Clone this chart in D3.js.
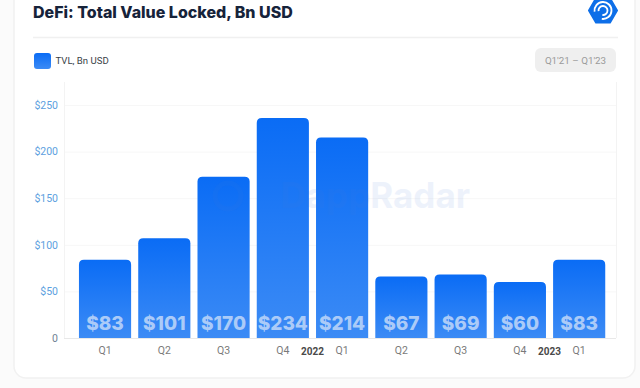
<!DOCTYPE html>
<html>
<head>
<meta charset="utf-8">
<script src="https://cdn.jsdelivr.net/npm/d3@7"></script>
<style>
  html, body { margin: 0; padding: 0; background: #fbfbfb; overflow: hidden; }
</style>
</head>
<body>
<div id="chart"></div>
<script>
// chart data
var quarters = ["Q1", "Q2", "Q3", "Q4", "Q1 ", "Q2 ", "Q3 ", "Q4 ", "Q1  "];
var quarterLabels = ["Q1", "Q2", "Q3", "Q4", "Q1", "Q2", "Q3", "Q4", "Q1"];
var barHeights = [84, 107, 173, 236, 215, 66, 68, 60, 84];
var valueLabels = ["$83", "$101", "$170", "$234", "$214", "$67", "$69", "$60", "$83"];
var yTicks = [0, 50, 100, 150, 200, 250];
var yearMarks = [{ year: "2022", after: 3 }, { year: "2023", after: 7 }];

var svgWidth = 640;
var svgHeight = 388;

var svg = d3.select("#chart")
  .append("svg")
  .attr("width", svgWidth)
  .attr("height", svgHeight)
  .attr("font-family", "Roboto, sans-serif")
  .style("display", "block");

var defs = svg.append("defs");
var grad = defs.append("linearGradient")
  .attr("id", "barFill")
  .attr("x1", 0).attr("y1", 0).attr("x2", 0).attr("y2", 1);
grad.append("stop").attr("offset", "0%").attr("stop-color", "#0a6cf5");
grad.append("stop").attr("offset", "100%").attr("stop-color", "#3c8bf5");

// card
svg.append("rect")
  .attr("x", 14).attr("y", -20)
  .attr("width", 621).attr("height", 398)
  .attr("rx", 12)
  .attr("fill", "#fff")
  .attr("stroke", "#f1f1f1")
  .attr("stroke-width", 1.5);

// header
svg.append("text")
  .attr("x", 33).attr("y", 18)
  .attr("font-family", "Inter, sans-serif")
  .attr("font-size", 16)
  .attr("font-weight", 800)
  .attr("fill", "#16233a")
  .text("DeFi: Total Value Locked, Bn USD");

svg.append("line")
  .attr("x1", 33).attr("x2", 618)
  .attr("y1", 37.5).attr("y2", 37.5)
  .attr("stroke", "#f0f0f0")
  .attr("stroke-width", 1.5);

// logo
var logo = svg.append("g").attr("transform", "translate(603,10.5)");
var hex = d3.range(6).map(function(i) {
  var a = i * Math.PI / 3;
  return [14 * Math.cos(a), 14 * Math.sin(a)];
});
logo.append("path")
  .attr("d", d3.line().curve(d3.curveLinearClosed)(hex))
  .attr("fill", "#0e6fe8")
  .attr("stroke", "#0e6fe8")
  .attr("stroke-width", 2)
  .attr("stroke-linejoin", "round");
[8.5, 4.5].forEach(function(r) {
  logo.append("path")
    .attr("d", d3.arc()({ innerRadius: r - 0.9, outerRadius: r + 0.9, startAngle: -2.5, endAngle: 2.5 }))
    .attr("transform", "rotate(45)")
    .attr("fill", "#fff");
});

// legend
svg.append("rect")
  .attr("x", 34).attr("y", 53)
  .attr("width", 17).attr("height", 16)
  .attr("rx", 3)
  .attr("fill", "url(#barFill)");
svg.append("text")
  .attr("x", 55.5).attr("y", 64)
  .attr("font-size", 9.6)
  .attr("fill", "#3a3f47")
  .text("TVL, Bn USD");

// range pill
svg.append("rect")
  .attr("x", 535).attr("y", 48)
  .attr("width", 81).attr("height", 24)
  .attr("rx", 6)
  .attr("fill", "#efefef");
svg.append("text")
  .attr("x", 575.5).attr("y", 64)
  .attr("text-anchor", "middle")
  .attr("font-size", 9.8)
  .attr("fill", "#9a9a9a")
  .text("Q1'21 – Q1'23");

// scales
var xBandScale = d3.scaleBand()
  .domain(quarters)
  .range([75.4, 608.8])
  .paddingInner(0.12)
  .paddingOuter(0.06);

var yLinearScale = d3.scaleLinear()
  .domain([0, 250])
  .range([338, 105]);

var plotLeft = 64;
var plotRight = 616;

// gridlines and frame
svg.append("g").selectAll("line")
  .data(yTicks)
  .join("line")
  .attr("x1", plotLeft).attr("x2", plotRight)
  .attr("y1", d => yLinearScale(d) + 0.5).attr("y2", d => yLinearScale(d) + 0.5)
  .attr("stroke", d => d === 0 ? "#e8e8e8" : "#f7f7f7");
[plotLeft, plotRight].forEach(function(x) {
  svg.append("line")
    .attr("x1", x + 0.5).attr("x2", x + 0.5)
    .attr("y1", 82).attr("y2", 338)
    .attr("stroke", "#f3f3f3");
});

// bars
svg.append("g").selectAll("path")
  .data(barHeights)
  .join("path")
  .attr("d", function(d, i) {
    var x0 = xBandScale(quarters[i]);
    var w = xBandScale.bandwidth();
    var y0 = yLinearScale(d);
    var y1 = yLinearScale(0);
    var r = 5;
    return "M" + x0 + "," + y1 + "V" + (y0 + r) + "Q" + x0 + "," + y0 + " " + (x0 + r) + "," + y0 +
      "H" + (x0 + w - r) + "Q" + (x0 + w) + "," + y0 + " " + (x0 + w) + "," + (y0 + r) + "V" + y1 + "Z";
  })
  .attr("fill", "url(#barFill)");

// watermark over the bars, very faint
var watermark = svg.append("g").attr("opacity", 0.09);
watermark.append("text")
  .attr("x", 470).attr("y", 208)
  .attr("text-anchor", "end")
  .attr("font-family", "Inter, sans-serif")
  .attr("font-size", 35)
  .attr("font-weight", 700)
  .attr("fill", "#4678dc")
  .text("DappRadar");
watermark.append("circle")
  .attr("cx", 228).attr("cy", 196).attr("r", 13)
  .attr("fill", "none")
  .attr("stroke", "#4678dc")
  .attr("stroke-width", 5);

// value labels
svg.append("g").selectAll("text")
  .data(valueLabels)
  .join("text")
  .attr("x", (d, i) => xBandScale(quarters[i]) + xBandScale.bandwidth() / 2)
  .attr("y", 329.5)
  .attr("text-anchor", "middle")
  .attr("font-family", "Inter, sans-serif")
  .attr("font-size", 19)
  .attr("font-weight", 800)
  .attr("fill", "#abcbf8")
  .text(d => d);

// y axis
var leftAxis = d3.axisLeft(yLinearScale)
  .tickValues(yTicks)
  .tickSize(0)
  .tickPadding(6)
  .tickFormat(d => d === 0 ? "0" : "$" + d);
var yAxis = svg.append("g")
  .attr("transform", "translate(" + plotLeft + ",0)")
  .call(leftAxis);
yAxis.select(".domain").remove();
yAxis.selectAll("text")
  .attr("font-family", "Roboto, sans-serif")
  .attr("font-size", 10.5)
  .attr("fill", d => d === 0 ? "#6f7f95" : "#5d9fe0");

// x axis
var bottomAxis = d3.axisBottom(xBandScale)
  .tickSize(0)
  .tickPadding(9)
  .tickFormat((d, i) => quarterLabels[i]);
var xAxis = svg.append("g")
  .attr("transform", "translate(0,338)")
  .call(bottomAxis);
xAxis.select(".domain").remove();
xAxis.selectAll("text")
  .attr("font-family", "Roboto, sans-serif")
  .attr("font-size", 10.5)
  .attr("fill", "#7a7a7a");

// year markers sit between Q4 and Q1
svg.append("g").selectAll("text")
  .data(yearMarks)
  .join("text")
  .attr("x", d => xBandScale(quarters[d.after]) + xBandScale.bandwidth() / 2 + xBandScale.step() / 2)
  .attr("y", 355)
  .attr("text-anchor", "middle")
  .attr("font-size", 10)
  .attr("font-weight", 700)
  .attr("fill", "#4a4a4a")
  .text(d => d.year);
</script>
</body>
</html>
